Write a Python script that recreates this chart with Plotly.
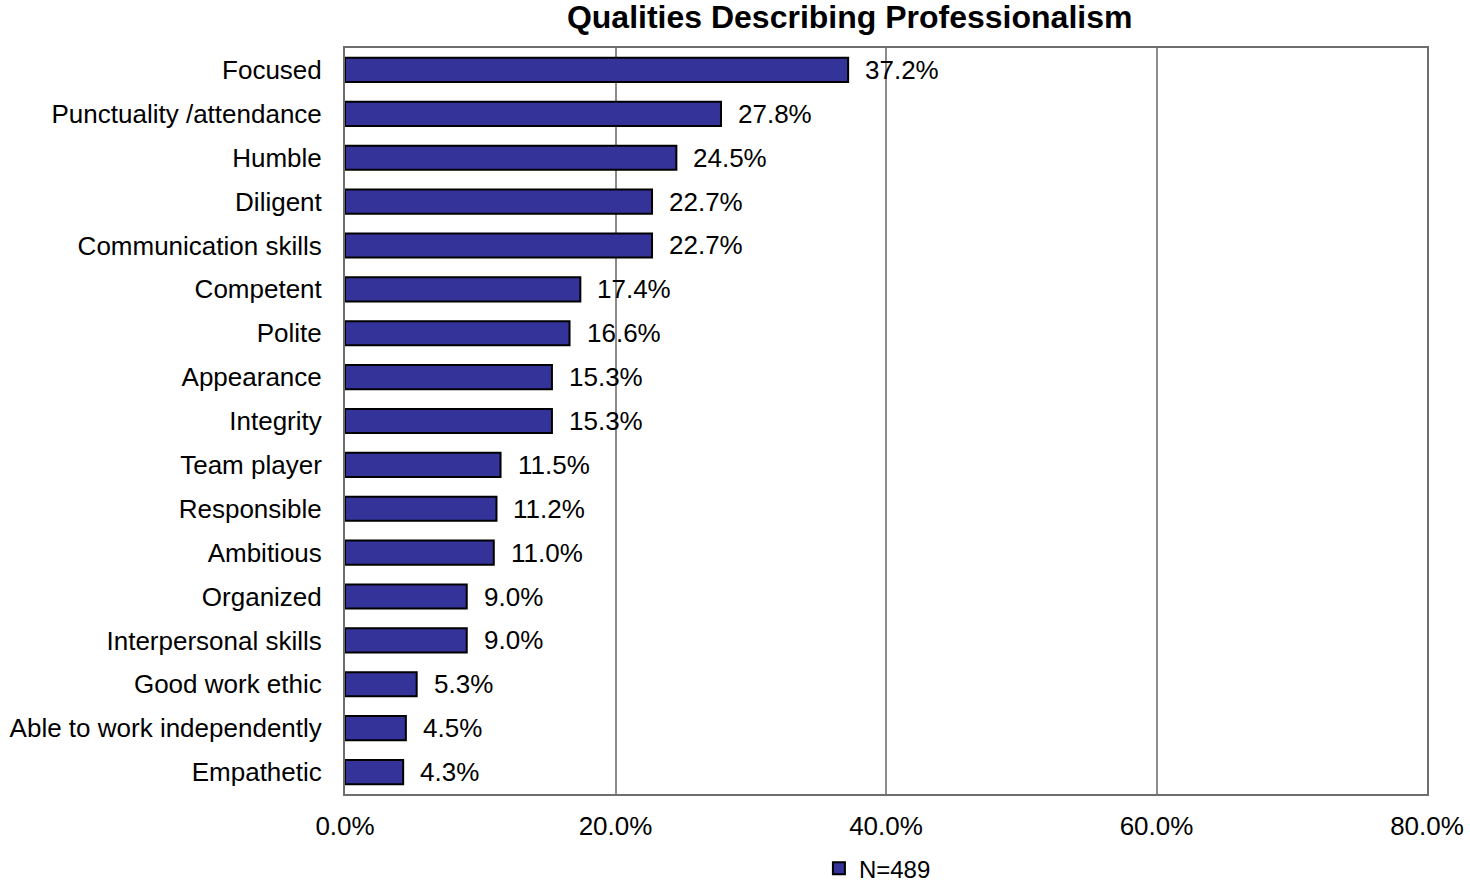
import plotly.graph_objects as go

categories = ["Focused", "Punctuality /attendance", "Humble", "Diligent", "Communication skills",
              "Competent", "Polite", "Appearance", "Integrity", "Team player", "Responsible",
              "Ambitious", "Organized", "Interpersonal skills", "Good work ethic",
              "Able to work independently", "Empathetic"]
values = [37.2, 27.8, 24.5, 22.7, 22.7, 17.4, 16.6, 15.3, 15.3, 11.5, 11.2, 11.0, 9.0, 9.0, 5.3, 4.5, 4.3]
series_name = "N=489"
x_ticks = [0, 20, 40, 60, 80]
x_tick_labels = ["0.0%", "20.0%", "40.0%", "60.0%", "80.0%"]
title_text = "Qualities Describing Professionalism"

FONT = "Liberation Sans, Arial, sans-serif"

fig = go.Figure()
fig.add_trace(go.Bar(
    y=categories, x=values, orientation="h", name=series_name,
    marker=dict(color="#333399", line=dict(color="#000000", width=2)),
    width=0.55, showlegend=True,
))

for c, v in zip(categories, values):
    fig.add_annotation(x=v, y=c, text=f"{v:.1f}%", showarrow=False, xanchor="left",
                       xshift=15, font=dict(size=26, color="#000000", family=FONT))

fig.update_layout(
    width=1470, height=884,
    margin=dict(l=345, r=43, t=48, b=90, autoexpand=False),
    paper_bgcolor="white", plot_bgcolor="white",
    font=dict(family=FONT, size=26, color="#000000"),
    title=dict(text=f"<b>{title_text}</b>", x=0.578, xanchor="center", y=0.981, yanchor="middle",
               font=dict(size=32, family=FONT, color="#000000")),
    xaxis=dict(range=[0, 80], tickvals=x_ticks, ticktext=x_tick_labels, showgrid=True,
               gridcolor="#8c8c8c", gridwidth=1.5, zeroline=False, showline=True,
               linecolor="#6e6e6e", linewidth=2, mirror=True, ticks="", automargin=False,
               ticklabelstandoff=8, tickfont=dict(size=26, family=FONT)),
    yaxis=dict(autorange="reversed", showline=True, linecolor="#6e6e6e", linewidth=2, mirror=True,
               ticks="", ticklabelstandoff=16, automargin=False,
               tickfont=dict(size=26, family=FONT), showgrid=False),
    legend=dict(orientation="h", x=0.438, xanchor="left", y=-0.1, yanchor="middle",
                font=dict(size=24, family=FONT), itemwidth=30),
    bargap=0.45,
)

fig.write_html("out.html", config={"displayModeBar": False},
               post_script="document.body.style.margin='0px';")
